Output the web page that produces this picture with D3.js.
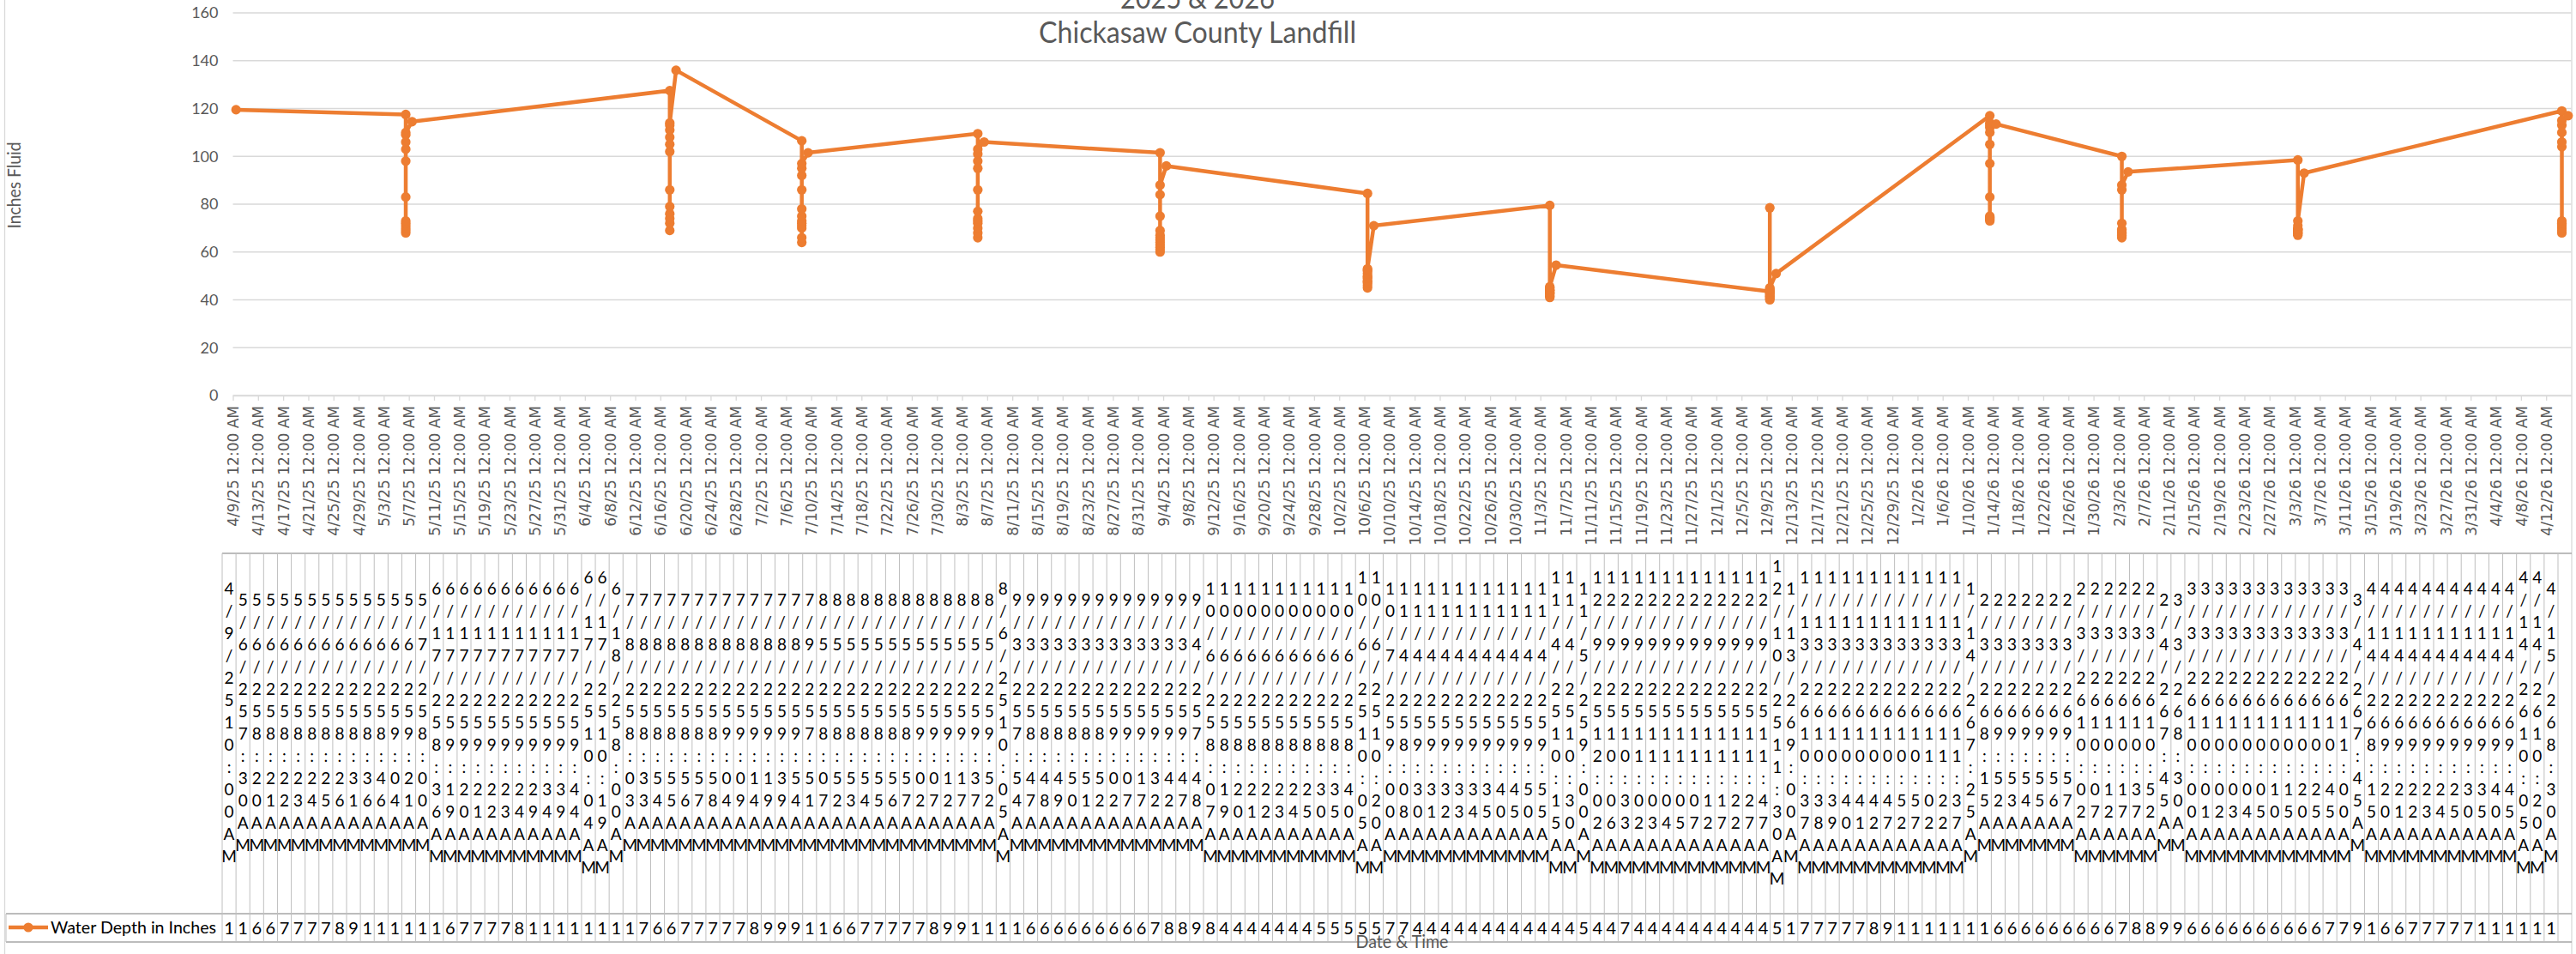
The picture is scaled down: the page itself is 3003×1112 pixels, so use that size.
<!DOCTYPE html>
<html>
<head>
<meta charset="utf-8">
<script src="https://cdn.jsdelivr.net/npm/d3@7"></script>
<style>
    body { margin: 0; background: #fff; }
    svg { display: block; }
</style>
</head>
<body>
<div id="chart"></div>
<script>
//Datos
const readingTimes = [
    "4/9/25 10:00 AM",
    "5/6/25 7:30 AM","5/6/25 8:20 AM","5/6/25 8:21 AM","5/6/25 8:22 AM","5/6/25 8:23 AM","5/6/25 8:24 AM","5/6/25 8:25 AM","5/6/25 8:26 AM","5/6/25 8:31 AM","5/6/25 8:36 AM","5/6/25 8:46 AM","5/6/25 9:04 AM","5/6/25 9:21 AM",
    "5/7/25 8:00 AM",
    "6/17/25 8:36 AM","6/17/25 9:19 AM","6/17/25 9:20 AM","6/17/25 9:21 AM","6/17/25 9:22 AM","6/17/25 9:23 AM","6/17/25 9:24 AM","6/17/25 9:29 AM","6/17/25 9:34 AM","6/17/25 9:39 AM","6/17/25 9:44 AM","6/17/25 10:04 AM","6/17/25 10:19 AM",
    "6/18/25 8:00 AM",
    "7/8/25 8:03 AM","7/8/25 8:33 AM","7/8/25 8:54 AM","7/8/25 8:55 AM","7/8/25 8:56 AM","7/8/25 8:57 AM","7/8/25 8:58 AM","7/8/25 9:04 AM","7/8/25 9:09 AM","7/8/25 9:14 AM","7/8/25 9:19 AM","7/8/25 9:39 AM","7/8/25 9:54 AM",
    "7/9/25 7:51 AM",
    "8/5/25 8:07 AM","8/5/25 8:52 AM","8/5/25 8:53 AM","8/5/25 8:54 AM","8/5/25 8:55 AM","8/5/25 8:56 AM","8/5/25 8:57 AM","8/5/25 9:02 AM","8/5/25 9:07 AM","8/5/25 9:12 AM","8/5/25 9:17 AM","8/5/25 9:37 AM","8/5/25 9:52 AM",
    "8/6/25 10:05 AM",
    "9/3/25 7:54 AM","9/3/25 8:47 AM","9/3/25 8:48 AM","9/3/25 8:49 AM","9/3/25 8:50 AM","9/3/25 8:51 AM","9/3/25 8:52 AM","9/3/25 9:02 AM","9/3/25 9:07 AM","9/3/25 9:17 AM","9/3/25 9:32 AM","9/3/25 9:42 AM","9/3/25 9:47 AM",
    "9/4/25 7:48 AM",
    "10/6/25 8:07 AM","10/6/25 8:19 AM","10/6/25 8:20 AM","10/6/25 8:21 AM","10/6/25 8:22 AM","10/6/25 8:23 AM","10/6/25 8:24 AM","10/6/25 8:25 AM","10/6/25 8:30 AM","10/6/25 8:35 AM","10/6/25 8:40 AM","10/6/25 10:05 AM","10/6/25 10:20 AM",
    "10/7/25 9:00 AM",
    "11/4/25 8:08 AM","11/4/25 9:30 AM","11/4/25 9:31 AM","11/4/25 9:32 AM","11/4/25 9:33 AM","11/4/25 9:34 AM","11/4/25 9:35 AM","11/4/25 9:40 AM","11/4/25 9:45 AM","11/4/25 9:50 AM","11/4/25 9:55 AM","11/4/25 10:15 AM","11/4/25 10:30 AM",
    "11/5/25 9:00 AM",
    "12/9/25 12:02 AM","12/9/25 10:06 AM","12/9/25 10:33 AM","12/9/25 11:02 AM","12/9/25 11:03 AM","12/9/25 11:04 AM","12/9/25 11:05 AM","12/9/25 11:07 AM","12/9/25 11:12 AM","12/9/25 11:17 AM","12/9/25 11:22 AM","12/9/25 11:27 AM","12/9/25 11:47 AM",
    "12/10/25 11:30 AM",
    "1/13/26 9:00 AM","1/13/26 10:37 AM","1/13/26 10:38 AM","1/13/26 10:39 AM","1/13/26 10:40 AM","1/13/26 10:41 AM","1/13/26 10:42 AM","1/13/26 10:47 AM","1/13/26 10:52 AM","1/13/26 10:57 AM","1/13/26 11:02 AM","1/13/26 11:22 AM","1/13/26 11:37 AM",
    "1/14/26 7:25 AM",
    "2/3/26 8:15 AM","2/3/26 9:52 AM","2/3/26 9:53 AM","2/3/26 9:54 AM","2/3/26 9:55 AM","2/3/26 9:56 AM","2/3/26 9:57 AM","2/3/26 10:02 AM","2/3/26 10:07 AM","2/3/26 10:12 AM","2/3/26 10:17 AM","2/3/26 10:37 AM","2/3/26 10:52 AM",
    "2/4/26 7:45 AM",
    "3/3/26 8:30 AM","3/3/26 10:00 AM","3/3/26 10:01 AM","3/3/26 10:02 AM","3/3/26 10:03 AM","3/3/26 10:04 AM","3/3/26 10:05 AM","3/3/26 10:10 AM","3/3/26 10:15 AM","3/3/26 10:20 AM","3/3/26 10:25 AM","3/3/26 10:45 AM","3/3/26 11:00 AM",
    "3/4/26 7:45 AM",
    "4/14/26 8:15 AM","4/14/26 9:20 AM","4/14/26 9:21 AM","4/14/26 9:22 AM","4/14/26 9:23 AM","4/14/26 9:24 AM","4/14/26 9:25 AM","4/14/26 9:30 AM","4/14/26 9:35 AM","4/14/26 9:40 AM","4/14/26 9:45 AM","4/14/26 10:05 AM","4/14/26 10:20 AM",
    "4/15/26 8:30 AM"
];

const depthInches = [
    119.5,
    117.5, 68, 69, 70, 71, 72, 73, 83, 98, 103, 106, 109, 110,
    114.5,
    127.5, 69, 72, 74, 76, 79, 86, 102, 105, 108, 111, 113, 114,
    136,
    106.5, 72, 64, 66, 70, 71, 73, 75, 78, 86, 92, 95, 97,
    101.5,
    109.5, 66, 68, 70, 72, 73, 74, 77, 86, 95, 98, 101, 103,
    106,
    101.5, 60, 61, 62, 63, 64, 65, 66, 67, 69, 75, 84, 88,
    96,
    84.5, 45, 46, 47, 47.5, 48, 49, 49.5, 50, 51, 52, 52.5, 53,
    71,
    79.5, 41, 41.5, 42, 42.5, 43, 43, 43.5, 44, 44, 44.5, 45, 45.5,
    54.5,
    43.5, 40, 78.5, 40.5, 41, 41.5, 42, 42.5, 43, 43.5, 44, 44.5, 45,
    51,
    117, 73, 73.5, 74, 74.5, 75, 83, 97, 105, 110, 112, 113, 114,
    113.5,
    100, 66, 66.5, 67, 67.5, 68, 68, 68.5, 69, 69.5, 72, 86, 88,
    93.5,
    98.5, 67, 67.5, 68, 68, 68.5, 69, 69, 69.5, 69.5, 69.8, 71, 73,
    93,
    119, 68, 69, 70, 71, 71.5, 72, 73, 104, 106, 110, 113, 115,
    117
];

const yTickValues = [0, 20, 40, 60, 80, 100, 120, 140, 160];
const axisStart = "4/9/25", axisEnd = "4/16/26";
const tickStepDays = 4, tickCount = 93;
const titleLines = ["2025 & 2026", "Chickasaw County Landfill"];
const yTitle = "Inches Fluid", xTitle = "Date & Time";
const seriesName = "Water Depth in Inches";

//Colores fijos
const COLOR_LINE = '#ED7D31',
COLOR_TEXT = '#595959',
COLOR_GRID = '#D9D9D9',
COLOR_TABLE = '#BFBFBF';

const width = 3003, height = 1112;
let plot = {left: 271.5, right: 2997.5, top: 15, bottom: 461};
let tbl = {left: 259, right: 2982, edge: 2998, top: 645, rowTop: 1065, bottom: 1098, legendLeft: 7};

let svg = d3.select('#chart')
    .append('svg')
        .attr('width', width)
        .attr('height', height);

let parseTime = d3.utcParse('%m/%d/%y %I:%M %p');
let parseDay = d3.utcParse('%m/%d/%y');
let tickFormat = d3.utcFormat('%-m/%-d/%y %-I:%M %p');

let data = readingTimes.map(function(t, i) {
    return { label: t, date: parseTime(t), value: depthInches[i] };
});

//Escalas
let x = d3.scaleUtc()
    .domain([parseDay(axisStart), parseDay(axisEnd)])
    .range([plot.left, plot.right]);

let y = d3.scaleLinear()
    .domain([0, 160])
    .range([plot.bottom, plot.top]);

let tickDates = d3.range(tickCount).map(function(i) {
    return d3.utcDay.offset(parseDay(axisStart), i * tickStepDays);
});

function xPoint(d) {
    return x(d3.utcHour.offset(d3.utcDay.floor(d.date), 12));
}

//Borde del gráfico
svg.append('rect')
    .attr('x', 5.5)
    .attr('y', -10)
    .attr('width', tbl.edge - 5.5)
    .attr('height', height + 40)
    .attr('fill', 'none')
    .attr('stroke', COLOR_GRID)
    .attr('stroke-width', 1.3);

//Líneas de cuadrícula
svg.append('g')
    .selectAll('line')
    .data(yTickValues)
    .enter()
    .append('line')
    .attr('x1', plot.left)
    .attr('x2', plot.right)
    .attr('y1', function(d) { return y(d); })
    .attr('y2', function(d) { return y(d); })
    .attr('stroke', COLOR_GRID)
    .attr('stroke-width', 1.4);

//Eje Y
let yAxis = svg.append('g')
    .attr('transform', 'translate(' + plot.left + ',0)')
    .call(d3.axisLeft(y).tickValues(yTickValues).tickSize(0).tickPadding(17));
yAxis.select('.domain').remove();
yAxis.selectAll('text')
    .attr('fill', COLOR_TEXT)
    .style('font-family', 'Lato, sans-serif')
    .style('font-size', '18px');

//Eje X
let xAxis = svg.append('g')
    .attr('transform', 'translate(0,' + plot.bottom + ')')
    .call(d3.axisBottom(x).tickValues(tickDates).tickFormat(tickFormat).tickSize(6).tickSizeOuter(0));
xAxis.select('.domain').attr('stroke', COLOR_GRID).attr('stroke-width', 1.4);
xAxis.selectAll('.tick line').attr('stroke', COLOR_GRID).attr('stroke-width', 1.3);
xAxis.selectAll('text')
    .attr('fill', COLOR_TEXT)
    .attr('transform', 'rotate(-90)')
    .attr('text-anchor', 'end')
    .attr('x', -12)
    .attr('y', 0)
    .attr('dy', '0.36em')
    .style('font-family', '"DejaVu Sans", sans-serif')
    .style('font-size', '17px');

//Títulos
svg.selectAll('.title')
    .data(titleLines)
    .enter()
    .append('text')
    .attr('class', 'title')
    .attr('x', 1396)
    .attr('y', function(d, i) { return 10 + i * 40; })
    .attr('text-anchor', 'middle')
    .attr('fill', COLOR_TEXT)
    .attr('textLength', function(d, i) { return i == 0 ? 180 : 370; })
    .attr('lengthAdjust', 'spacingAndGlyphs')
    .style('font-family', 'Lato, sans-serif')
    .style('font-size', '34px')
    .text(function(d) { return d; });

svg.append('text')
    .attr('transform', 'translate(24,216) rotate(-90)')
    .attr('text-anchor', 'middle')
    .attr('fill', COLOR_TEXT)
    .attr('textLength', 101)
    .attr('lengthAdjust', 'spacingAndGlyphs')
    .style('font-family', 'Lato, sans-serif')
    .style('font-size', '21px')
    .text(yTitle);

//Serie
svg.append('path')
    .datum(data)
    .attr('fill', 'none')
    .attr('stroke', COLOR_LINE)
    .attr('stroke-width', 4.5)
    .attr('stroke-linejoin', 'round')
    .attr('d', d3.line()
        .x(xPoint)
        .y(function(d) { return y(d.value); })
    );

svg.selectAll('.marker')
    .data(data)
    .enter()
    .append('circle')
    .attr('class', 'marker')
    .attr('cx', xPoint)
    .attr('cy', function(d) { return y(d.value); })
    .attr('r', 5.6)
    .attr('fill', COLOR_LINE);

//Tabla de datos
let col = d3.scaleBand()
    .domain(d3.range(data.length))
    .range([tbl.left, tbl.right]);

let table = svg.append('g');

table.append('line')
    .attr('x1', tbl.left).attr('x2', tbl.edge)
    .attr('y1', tbl.top).attr('y2', tbl.top)
    .attr('stroke', '#A6A6A6').attr('stroke-width', 1.3);

table.selectAll('.hline')
    .data([tbl.rowTop, tbl.bottom])
    .enter()
    .append('line')
    .attr('class', 'hline')
    .attr('x1', tbl.legendLeft).attr('x2', tbl.edge)
    .attr('y1', function(d) { return d; }).attr('y2', function(d) { return d; })
    .attr('stroke', '#A6A6A6').attr('stroke-width', 1.3);

table.selectAll('.vline')
    .data(d3.range(data.length + 1))
    .enter()
    .append('line')
    .attr('class', 'vline')
    .attr('x1', function(i) { return tbl.left + i * col.bandwidth(); })
    .attr('x2', function(i) { return tbl.left + i * col.bandwidth(); })
    .attr('y1', tbl.top).attr('y2', tbl.bottom)
    .attr('stroke', COLOR_TABLE).attr('stroke-width', 1);

table.append('line')
    .attr('x1', tbl.legendLeft).attr('x2', tbl.legendLeft)
    .attr('y1', tbl.rowTop).attr('y2', tbl.bottom)
    .attr('stroke', COLOR_TABLE).attr('stroke-width', 1);

//Cabeceras (fecha y hora, un carácter por línea)
table.selectAll('.head')
    .data(data)
    .enter()
    .append('text')
    .attr('class', 'head')
    .attr('text-anchor', 'middle')
    .attr('dominant-baseline', 'central')
    .attr('fill', '#000')
    .style('font-family', 'Lato, sans-serif')
    .style('font-size', '19px')
    .each(function(d, i) {
        let chars = d.label.replace(/ /g, '').split('');
        let cx = col(i) + col.bandwidth() / 2;
        d3.select(this).selectAll('tspan')
            .data(chars)
            .enter()
            .append('tspan')
            .attr('x', cx)
            .attr('y', function(c, k) { return 841 + (k - (chars.length - 1) / 2) * 26; })
            .text(function(c) { return c; });
    });

//Valores (la celda solo deja ver la primera línea)
svg.append('clipPath')
    .attr('id', 'rowclip')
    .append('rect')
    .attr('x', tbl.left).attr('y', tbl.rowTop)
    .attr('width', tbl.right - tbl.left).attr('height', tbl.bottom - tbl.rowTop);

table.append('g')
    .attr('clip-path', 'url(#rowclip)')
    .selectAll('.val')
    .data(data)
    .enter()
    .append('text')
    .attr('class', 'val')
    .attr('text-anchor', 'middle')
    .attr('dominant-baseline', 'central')
    .attr('fill', '#000')
    .style('font-family', 'Lato, sans-serif')
    .style('font-size', '20px')
    .each(function(d, i) {
        let chars = String(d.value).split('');
        let cx = col(i) + col.bandwidth() / 2;
        d3.select(this).selectAll('tspan')
            .data(chars)
            .enter()
            .append('tspan')
            .attr('x', cx)
            .attr('y', function(c, k) { return 1081 + k * 26; })
            .text(function(c) { return c; });
    });

//Leyenda
table.append('line')
    .attr('x1', 10).attr('x2', 56)
    .attr('y1', 1081).attr('y2', 1081)
    .attr('stroke', COLOR_LINE).attr('stroke-width', 4.5);
table.append('circle')
    .attr('cx', 33).attr('cy', 1081).attr('r', 5.6)
    .attr('fill', COLOR_LINE);
table.append('text')
    .attr('x', 59).attr('y', 1088)
    .attr('fill', '#000')
    .attr('textLength', 193)
    .attr('lengthAdjust', 'spacingAndGlyphs')
    .style('font-family', 'Lato, sans-serif')
    .style('font-size', '20px')
    .text(seriesName);

//Título eje X
svg.append('text')
    .attr('x', (plot.left + plot.right) / 2)
    .attr('y', 1105)
    .attr('text-anchor', 'middle')
    .attr('fill', COLOR_TEXT)
    .attr('textLength', 108)
    .attr('lengthAdjust', 'spacingAndGlyphs')
    .style('font-family', 'Lato, sans-serif')
    .style('font-size', '21px')
    .text(xTitle);
</script>
</body>
</html>
